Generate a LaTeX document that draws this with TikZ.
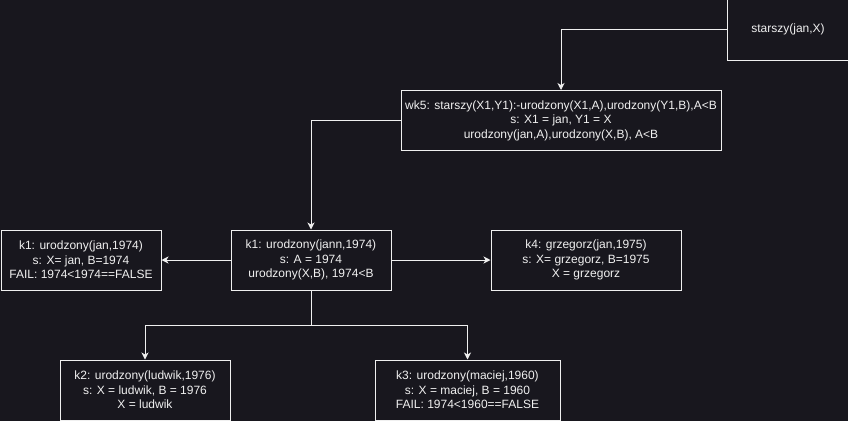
\documentclass[tikz,border=0pt]{standalone}
\usepackage{fontspec}
\setmainfont{Liberation Sans}
\usetikzlibrary{arrows.meta}
\definecolor{bg}{HTML}{18171E}
\definecolor{fg}{HTML}{F0F0F0}
\begin{document}
\begin{tikzpicture}[x=1pt,y=-1pt,
  box/.style={draw=fg, line width=1pt, text=fg, align=center,
    font=\fontsize{12}{14.5}\selectfont, inner sep=0pt, minimum height=60pt},
  arr/.style={draw=fg, line width=1pt, -{Stealth[length=7pt,width=7pt,inset=2pt]}}]
\fill[bg] (0,0) rectangle (848,421);
\useasboundingbox (0,0) rectangle (848,421);
\node[box, minimum width=122pt, minimum height=62pt] (top) at (788,29) {starszy(jan,X)};
\node[box, minimum width=320pt] (wk5) at (561,120.5) {wk5: starszy(X1,Y1):-urodzony(X1,A),urodzony(Y1,B),A<B\\s: X1 = jan, Y1 = X\\urodzony(jan,A),urodzony(X,B), A<B};
\node[box, minimum width=160pt] (k1l) at (81,260) {k1: urodzony(jan,1974)\\s: X= jan, B=1974\\FAIL: 1974<1974==FALSE};
\node[box, minimum width=160pt] (k1) at (311,260) {k1: urodzony(jann,1974)\\s: A = 1974\\urodzony(X,B), 1974<B};
\node[box, minimum width=190pt] (k4) at (586,260) {k4: grzegorz(jan,1975)\\s: X= grzegorz, B=1975\\X = grzegorz};
\node[box, minimum width=170pt] (k2) at (145,390) {k2: urodzony(ludwik,1976)\\s: X = ludwik, B = 1976\\X = ludwik};
\node[box, minimum width=185pt] (k3) at (467.5,390) {k3: urodzony(maciej,1960)\\s: X = maciej, B = 1960\\FAIL: 1974<1960==FALSE};
\coordinate (split) at (311,325);
\draw[arr] (top.west) -| (wk5.north);
\draw[arr] (wk5.west) -| (k1.north);
\draw[arr] (k1.west) -- (k1l.east);
\draw[arr] (k1.east) -- (k4.west);
\draw[arr] (k1.south) -- (split) -| (k2.north);
\draw[arr] (split) -| (k3.north);
\end{tikzpicture}
\end{document}
